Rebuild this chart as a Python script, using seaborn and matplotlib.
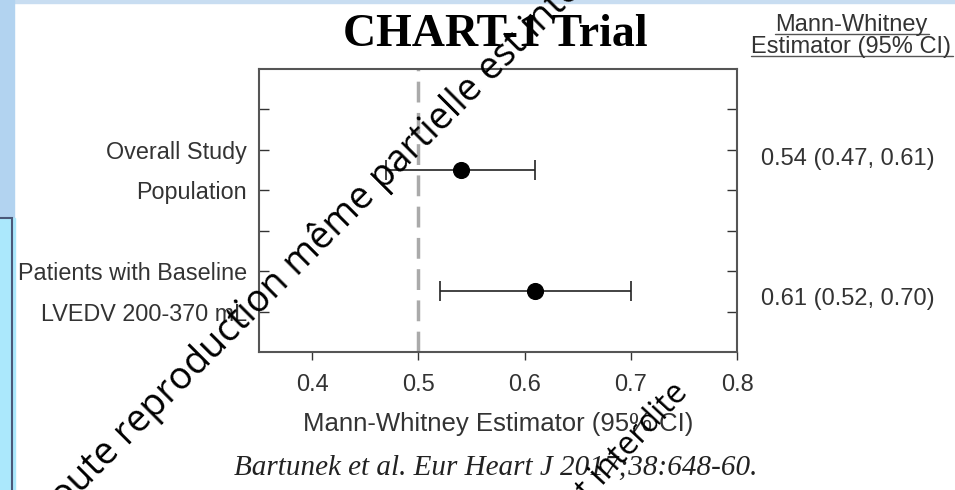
import matplotlib
matplotlib.use("Agg")
import matplotlib.pyplot as plt
import matplotlib.transforms as mtransforms
from matplotlib.patches import Rectangle
from matplotlib.lines import Line2D
import seaborn as sns
import pandas as pd

# data
groups = ["Overall Study Population", "Patients with Baseline LVEDV 200-370 mL"]
estimate = [0.54, 0.61]
ci_low = [0.47, 0.52]
ci_high = [0.61, 0.70]
ytick_labels = ["", "Overall Study", "Population", "", "Patients with Baseline", "LVEDV 200-370 mL"]
xticks = [0.4, 0.5, 0.6, 0.7, 0.8]

title = "CHART-1 Trial"
xlabel = "Mann-Whitney Estimator (95% CI)"
header = ["Mann-Whitney", "Estimator (95% CI)"]
source = "Bartunek et al. Eur Heart J 2017;38:648-60."
watermark = "Toute reproduction même partielle est interdite"

df = pd.DataFrame({"group": groups, "est": estimate, "lo": ci_low, "hi": ci_high})
df["row"] = [2.5, 5.5]
df["label"] = [f"{e:.2f} ({l:.2f}, {h:.2f})" for e, l, h in zip(estimate, ci_low, ci_high)]
value_offsets = [-0.27, 0.19]

sns.set_theme(style="white")
plt.rcParams["font.family"] = ["Liberation Sans", "DejaVu Sans"]

W, H = 955, 490
dark = "#333333"
fig = plt.figure(figsize=(9.55, 4.9), dpi=100)
fig.patch.set_facecolor("white")

# slide background bits
fig.patches.append(Rectangle((0, 1 - 3 / H), 1, 3 / H, transform=fig.transFigure, color="#c8ddf1", zorder=0))
fig.patches.append(Rectangle((0, 0), 14 / W, 1, transform=fig.transFigure, color="#b2d3f0", zorder=0))
fig.patches.append(Rectangle((0, 0), 15 / W, 1 - 218 / H, transform=fig.transFigure, color="#abe8fc", zorder=0))
fig.patches.append(Rectangle((-0.01, -0.01), 0.01 + 12 / W, 0.01 + 1 - 218 / H, transform=fig.transFigure,
                             fill=False, edgecolor="#4b5879", lw=1.5, zorder=1))

ax = fig.add_axes([259 / W, 1 - 352 / H, (737 - 259) / W, (352 - 69) / H])
ax.set_facecolor("white")

ax.axvline(0.5, color="#aaaaaa", lw=2.5, dashes=(6, 3), zorder=1)
ax.errorbar(df["est"], df["row"], xerr=[df["est"] - df["lo"], df["hi"] - df["est"]], fmt="none",
            ecolor="#222222", elinewidth=1.2, capsize=7, capthick=1.2, zorder=2)
sns.scatterplot(data=df, x="est", y="row", color="black", s=130, edgecolor="black", zorder=3, ax=ax, legend=False)

ax.set_xlim(0.35, 0.8)
ax.set_ylim(7, 0)
ax.set_xticks(xticks)
ax.set_xticklabels([f"{t:.1f}" for t in xticks])
ax.set_yticks(range(1, 7))
ax.set_yticklabels(ytick_labels)
ax.tick_params(axis="y", direction="in", left=True, right=True, length=7, width=1, color=dark,
               labelsize=16.8, labelcolor=dark, pad=8.5)
ax.tick_params(axis="x", direction="out", bottom=True, length=6, width=1, color=dark,
               labelsize=17, labelcolor=dark, pad=10)
for s in ax.spines.values():
    s.set_color("#555555")
    s.set_linewidth(1.5)
ax.set_xlabel(xlabel, fontsize=18.5, color=dark, labelpad=11)
ax.set_ylabel("")

# estimate column on the right
blend = mtransforms.blended_transform_factory(fig.transFigure, ax.transData)
for (_, r), off in zip(df.iterrows(), value_offsets):
    ax.text(848 / W, r["row"] + off, r["label"], transform=blend, ha="center", va="center",
            fontsize=17, color=dark, clip_on=False)

head_txt = []
for t, y in zip(header, [31, 53]):
    head_txt.append(fig.text(851 / W, 1 - y / H, t, ha="center", va="baseline", fontsize=17, color=dark))

fig.text(495 / W, 1 - 46 / H, title, ha="center", va="baseline", fontsize=33, fontweight="bold",
         family="Liberation Serif", color="black")
fig.text(496 / W, 1 - 468 / H, source, ha="center", va="center", fontsize=21, style="italic",
         family="Liberation Serif", color="#222222")

# watermark
fig.text(338 / W, 1 - 222 / H, watermark, rotation=45, rotation_mode="anchor", ha="center", va="center",
         fontsize=27, family=["Open Sans", "DejaVu Sans"], color="black", zorder=10)
fig.text(683 / W, 1 - 388 / H, watermark, rotation=47, rotation_mode="anchor", ha="right", va="center",
         fontsize=23, family=["Open Sans", "DejaVu Sans"], color="black", zorder=10)

# underline the header lines, a little under the baseline
fig.canvas.draw()
for t, y in zip(head_txt, [31, 53]):
    bb = t.get_window_extent(fig.canvas.get_renderer())
    yy = 1 - (y + 3) / H
    fig.add_artist(Line2D([bb.x0 / W, (bb.x1 + 2) / W], [yy, yy], transform=fig.transFigure,
                          color="#555555", lw=1))

fig.savefig("out.png", dpi=100)
